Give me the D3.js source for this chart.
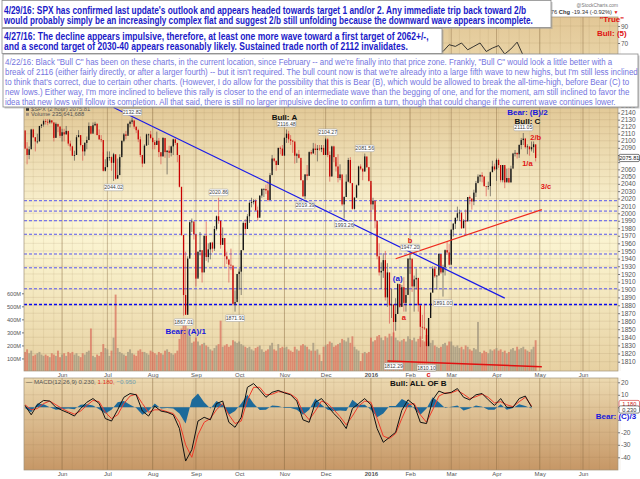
<!DOCTYPE html>
<html>
<head>
<meta charset="utf-8">
<script src="https://cdn.jsdelivr.net/npm/d3@7/dist/d3.min.js"></script>
<style>
  html, body { margin: 0; padding: 0; background: #fff; }
  svg { display: block; font-family: "Liberation Sans", Arial, sans-serif; }
</style>
</head>
<body>
<svg id="chart" width="640" height="479"></svg>
<script>
// ---- data ----------------------------------------------------------------
// SPX, one row per trading day: [close, high, low]
const firstDay = '2015-05-05';
const priorClose = 2114.5;
const holidays = ['2015-05-25', '2015-07-03', '2015-09-07', '2015-11-26', '2015-12-25',
    '2016-01-01', '2016-01-18', '2016-02-15', '2016-03-25', '2016-05-30'];

const may15 = [[2089,2115,2088],[2080,2098,2067],[2088,2092,2074],[2116,2117,2092],[2105,2117,2104],[2099,2105,2085],
    [2099,2110,2096],[2121,2121,2100],[2123,2124,2118],[2128,2130,2120],[2127,2131,2123],[2126,2131,2122],[2129,2131,2124],
    [2126,2129,2124],[2104,2126,2099],[2124,2126,2105],[2120,2123,2112],[2107,2121,2104]];
const jun15 = [[2112,2117,2099],[2109,2117,2099],[2114,2121,2109],[2096,2112,2093],[2092,2100,2086],[2079,2093,2079],
    [2080,2086,2072],[2105,2108,2081],[2108,2115,2106],[2094,2104,2092],[2085,2091,2072],[2097,2098,2079],[2101,2106,2088],
    [2121,2126,2101],[2110,2120,2109],[2122,2126,2113],[2124,2127,2121],[2108,2125,2108],[2102,2116,2101],[2101,2108,2098],
    [2058,2084,2057],[2063,2074,2057]];
const jul15 = [[2077,2085,2068],[2077,2085,2072],[2069,2078,2058],[2081,2083,2044],[2047,2074,2046],[2052,2075,2049],
    [2077,2081,2063],[2100,2100,2080],[2109,2111,2098],[2107,2114,2102],[2124,2125,2110],[2127,2129,2119],[2129,2133,2124],
    [2120,2128,2117],[2115,2120,2111],[2102,2117,2098],[2080,2106,2077],[2068,2078,2063],[2093,2095,2069],[2109,2110,2094],
    [2109,2110,2094],[2104,2114,2102]];
const aug15 = [[2098,2105,2088],[2094,2101,2088],[2100,2113,2095],[2084,2104,2077],[2078,2082,2067],[2104,2105,2078],
    [2084,2103,2076],[2086,2087,2053],[2083,2093,2076],[2092,2093,2078],[2102,2103,2080],[2097,2103,2094],[2080,2096,2070],
    [2036,2074,2035],[1971,2035,1970],[1893,1965,1867],[1868,1949,1870],[1940,1943,1872],[1988,1989,1943],[1989,1993,1975],
    [1972,1986,1965]];
const sep15 = [[1914,1948,1904],[1949,1949,1916],[1951,1975,1944],[1922,1947,1909],[1970,1970,1944],[1942,1989,1937],
    [1952,1960,1935],[1961,1961,1939],[1953,1962,1948],[1979,1983,1950],[1996,1997,1977],[1990,2021,1986],[1958,1989,1953],
    [1967,1981,1962],[1943,1952,1929],[1939,1949,1933],[1932,1938,1909],[1931,1953,1925],[1882,1927,1880],[1884,1899,1872],
    [1920,1920,1888]];
const oct15 = [[1923,1927,1900],[1951,1951,1893],[1987,1989,1951],[1979,1992,1972],[1996,1999,1982],[2014,2016,1987],
    [2015,2021,2008],[2017,2019,2012],[2004,2019,2003],[1994,2009,1990],[2024,2024,1996],[2033,2034,2021],[2033,2034,2022],
    [2031,2039,2026],[2018,2045,2016],[2052,2055,2018],[2075,2080,2058],[2072,2076,2070],[2066,2071,2058],[2090,2090,2067],
    [2089,2092,2081],[2079,2094,2079]];
const nov15 = [[2104,2105,2081],[2110,2116,2097],[2102,2114,2097],[2100,2108,2094],[2099,2101,2083],[2079,2095,2068],
    [2081,2083,2069],[2076,2087,2075],[2045,2072,2045],[2023,2044,2022],[2053,2053,2019],[2051,2066,2045],[2084,2085,2051],
    [2082,2087,2080],[2089,2097,2083],[2087,2096,2080],[2089,2094,2071],[2088,2094,2086],[2090,2094,2084],[2080,2094,2080]];
const dec15 = [[2102,2104,2086],[2080,2104,2077],[2050,2085,2043],[2092,2093,2051],[2077,2093,2070],[2064,2070,2057],
    [2048,2081,2042],[2053,2067,2045],[2012,2046,2010],[2022,2023,1993],[2043,2053,2025],[2073,2076,2042],[2041,2077,2041],
    [2006,2041,2005],[2021,2022,2005],[2038,2039,2022],[2064,2065,2038],[2061,2067,2059],[2057,2058,2045],[2078,2082,2057],
    [2063,2077,2062],[2044,2063,2043]];
const jan16 = [[2012,2038,1990],[2017,2021,2005],[1990,2011,1980],[1943,1985,1939],[1922,1960,1918],[1924,1935,1901],
    [1938,1947,1915],[1890,1950,1886],[1922,1934,1878],[1880,1900,1857],[1881,1901,1864],[1859,1876,1812],[1869,1889,1848],
    [1907,1908,1878],[1878,1906,1877],[1903,1906,1878],[1883,1916,1872],[1893,1902,1872],[1940,1940,1894]];
const feb16 = [[1940,1947,1920],[1904,1939,1897],[1913,1918,1872],[1915,1927,1900],[1880,1913,1872],[1853,1873,1828],
    [1852,1868,1838],[1851,1881,1849],[1829,1850,1810],[1864,1864,1834],[1896,1896,1872],[1927,1930,1903],[1917,1930,1915],
    [1918,1918,1900],[1946,1947,1925],[1922,1945,1920],[1929,1932,1891],[1951,1952,1918],[1948,1963,1945],[1932,1959,1931]];
const mar16 = [[1978,1979,1937],[1986,1987,1969],[1994,1994,1979],[2000,2009,1990],[2001,2005,1990],[1980,1995,1979],
    [1990,1992,1980],[1989,2005,1970],[2022,2022,1999],[2020,2024,2012],[2016,2017,2005],[2028,2032,2011],[2041,2044,2022],
    [2050,2053,2042],[2052,2053,2043],[2050,2056,2042],[2037,2051,2036],[2036,2036,2023],[2037,2043,2032],[2056,2057,2023],
    [2064,2072,2061],[2060,2068,2058]];
const apr16 = [[2073,2075,2044],[2066,2075,2062],[2045,2062,2042],[2066,2066,2042],[2042,2063,2034],[2048,2061,2044],
    [2042,2062,2041],[2061,2065,2042],[2082,2083,2066],[2083,2087,2078],[2081,2083,2075],[2094,2095,2076],[2101,2104,2088],
    [2103,2111,2094],[2091,2104,2089],[2092,2095,2081],[2088,2091,2079],[2091,2099,2085],[2095,2099,2083],[2075.81,2094,2071]];

// volume, millions, one value per trading day
const volMay15 = [150,170,140,160,120,130,140,150,130,120,130,120,110,140,130,120,160,110];
const volJun15 = [130,140,120,150,140,150,130,140,120,110,140,130,150,160,330,120,110,130,120,150,210,180];
const volJul15 = [170,120,160,260,590,180,150,140,130,120,150,170,140,130,120,160,170,150,150,140,130,160];
const volAug15 = [150,140,130,150,140,130,160,170,150,140,130,140,160,250,330,400,370,330,270,220,230];
const volSep15 = [260,230,200,210,220,200,190,170,160,180,200,210,390,190,200,210,190,200,240,230,220];
const volOct15 = [230,210,200,190,180,190,170,160,180,190,200,170,150,160,170,200,220,170,160,210,180,190];
const volNov15 = [180,190,170,160,150,190,170,160,200,210,200,190,170,160,220,160,170,130,80,190];
const volDec15 = [200,210,230,220,190,200,210,220,250,240,230,260,220,270,190,170,160,80,140,150,140,150];
const volJan16 = [260,230,240,270,280,260,240,270,260,290,270,300,260,240,230,240,250,230,270];
const volFeb16 = [250,240,260,230,250,270,240,230,280,230,220,240,200,190,180,190,210,220,200,230];
const volMar16 = [230,200,190,200,180,190,170,200,190,170,160,180,170,380,150,140,160,150,140,170,160,170];
const volApr16 = [180,160,170,150,160,140,150,170,180,160,190,170,180,190,170,160,150,170,190,240];

// MACD(12,26,9) and its signal, every 3rd trading day from firstDay
const macdStep = 3;
const macdLine = [1.5,-6,2,5.5,5,0,-2.4,-4.5,-7,-1, 4,7,3,-9,-11,-2,8,11,10,-3,
    -7,1,-3,-4,-6,-17,-43,-34,-11,-8, -10,3,5,-12,-16,-8,16,19,13.8,8,
    12,13.5,11.5,10,5,-10,-12,4,7,1, -5,-10,-17,-1,3,7,2,-17,-28,-24,
    -20,-2.4,6,2,-12,-13,6,13,11,12, 15,8,6,10,11,6,1.5,7,0,0, 7,9,0.23];
const signalLine = [2,-2,-1,3,5,2,-1,-3.5,-5.5,-3, 1.5,5.5,4.5,-4,-9,-6,3,9,10.5,3,
    -4,-2,-2,-3.5,-5,-12,-30,-40,-22,-12, -9,-2,3,-6,-13,-11,6,16,16,10,
    10.5,12.5,12,10.5,7,-4,-10,-3,5,3, -2,-7.5,-14,-7,1,5,4,-9,-23,-25,
    -21,-9,2,3,-6,-12,-2,9,11.5,11.5, 13.5,10.5,7,8.5,10.5,8,3.5,4.5,2,0.5, 4.5,8,1.18];

// RSI, the only part not hidden by the notes, every 3rd day
const rsiStart = '2016-02-19';
const rsiLine = [65,60,68,66,70,62,66,70,60,64,67,57,63,71,55,52,45];

// axis labels
const monthLabels = ['Jun','Jul','Aug','Sep','Oct','Nov','Dec','2016','Feb','Mar','Apr','May','Jun'];
const priceTicks = d3.range(1810, 2151, 10);
const volumeTicks = [100, 200, 300, 400, 500, 600];
const macdTicks = [-40, -30, -20, -10, 0, 10, 20];
const macdTickLabels = [-40, -30, -20, 10, 20];
const rsiTicks = [70, 90];

// annotations drawn on the chart
const pivotLabels = [['2015-07-07',2044.02,'low'],['2015-07-20',2132.82,'high'],['2015-08-24',1867.01,'low'],
    ['2015-09-17',2020.86,'high'],['2015-09-29',1871.91,'low'],['2015-11-03',2116.48,'high'],['2015-11-16',2019.39,'low'],
    ['2015-12-02',2104.27,'high'],['2015-12-14',1993.26,'low'],['2015-12-29',2081.56,'high'],['2016-01-20',1812.29,'low'],
    ['2016-02-01',1947.20,'high'],['2016-02-11',1810.10,'low'],['2016-02-24',1891.00,'low'],['2016-04-20',2111.05,'high']];
const levelLines = [2017, 2003, 1990, 1972, 1946, 1928, 1901];
const keyLevel = 1881;
const blueTrend = [['2015-07-07',2147.6],['2016-04-07',1889.1]];
const redTrend = [['2016-01-21',1939.8],['2016-05-03',2005]];
const redBase = [['2016-01-14',1811],['2016-05-03',1804]];
const waveLabels = [['Bull: A','2015-11-02',2130,'bull'],['Bear: (A)/1','2015-08-25',1844,'bear'],
    ['(a)','2016-01-22',1911,'bear'],['a','2016-01-27',1862,'wave'],['b','2016-02-01',1961,'wave'],
    ['c','2016-02-12',1791,'wave'],['Bear: (B)/2','2016-04-22',2136,'bear'],['Bull: C','2016-04-22',2124.5,'bull'],
    ['2/b','2016-04-28',2101,'wave'],['1/a','2016-04-22',2065,'wave'],['3/c','2016-05-05',2033,'wave']];
const macdLabels = [['Bull:  ALL OF B','2016-02-05',17.4,'bull'],['Bear: (C)/3','2016-06-23',-9,'bear']];
const rsiLabels = [['"True"','2016-06-21',94.6,'true'],['Bull: (5)','2016-06-21',78.6,'true']];

const note0429 = [
    "4/29/16:  SPX has confirmed last update's outlook and appears headed towards target 1 and/or 2.  Any immediate trip back toward 2/b",
    "would probably simply be an increasingly complex flat and suggest 2/b still unfolding because the downward wave appears incomplete."];
const note0427 = [
    "4/27/16:  The decline appears impulsive, therefore, at least one more wave toward a first target of 2062+/-,",
    "and a second target of 2030-40 appears reasonably likely.  Sustained trade north of 2112 invalidates."];
const note0422 = [
    "4/22/16:  Black \"Bull C\" has been on these charts, in the current location, since February -- and we're finally into that price zone.  Frankly, \"Bull C\" would look a little better with a",
    "break of 2116 (either fairly directly, or after a larger fourth) -- but it isn't required.  The bull count now is that we're already into a large fifth wave to new highs, but I'm still less inclined",
    "to think that's correct, due to certain other charts.  (However, I do allow for the possibility that this is Bear (B), which would be allowed to break the all-time-high, before Bear (C) to",
    "new lows.)  Either way, I'm more inclined to believe this rally is closer to the end of an intermediate wave than the begging of one, and for the moment, am still inclined to favor the",
    "idea that new lows will follow its completion.  All that said, there is still no larger impulsive decline to confirm a turn, though that could change if the current wave continues lower."];

// ---- layout ---------------------------------------------------------------
const plotLeft = 24, plotRight = 618;
const rsiTop = 17, rsiBottom = 96;
const priceTop = 98, priceBottom = 371;
const macdTop = 378, macdBottom = 470;
const blue = '#1818dc', red = '#e01414';
const labelColors = {bull: '#111', bear: blue, wave: red, true: red};

function tradingDays(start, count) {
    const out = [];
    const d = new Date(start + 'T12:00:00Z');
    while (out.length < count) {
        const key = d.toISOString().slice(0, 10);
        if (d.getUTCDay() !== 0 && d.getUTCDay() !== 6 && !holidays.includes(key)) {
            out.push(new Date(d));
        }
        d.setUTCDate(d.getUTCDate() + 1);
    }
    return out;
}

const days = tradingDays(firstDay, 290);
const dayKey = (d) => d.toISOString().slice(0, 10);
const idx = (s) => days.findIndex((d) => dayKey(d) === s);
const monthIdx = days.map((d, i) => i).filter((i) => i > 0 && days[i].getUTCMonth() !== days[i - 1].getUTCMonth());
const weekIdx = days.map((d, i) => i).filter((i) => i > 0 && days[i].getUTCDay() < days[i - 1].getUTCDay());

const rows = [].concat(may15, jun15, jul15, aug15, sep15, oct15, nov15, dec15, jan16, feb16, mar16, apr16);
const volumes = [].concat(volMay15, volJun15, volJul15, volAug15, volSep15, volOct15, volNov15, volDec15,
    volJan16, volFeb16, volMar16, volApr16);
const bars = rows.map((r, i) => ({
    i, close: r[0], high: r[1], low: r[2], open: i ? rows[i - 1][0] : priorClose, volume: volumes[i]
}));
const lastBar = bars[bars.length - 1];
const macdData = macdLine.map((m, k) => ({i: k * macdStep, m, s: signalLine[k], h: m - signalLine[k]}));
const lastMacd = macdData[macdData.length - 1];
const rsiData = rsiLine.map((v, k) => ({i: idx(rsiStart) + k * 3, v}));

const x = d3.scaleLinear().domain([-0.5, 288]).range([plotLeft, plotRight]);
const yPrice = d3.scaleLog().domain([1810, 2140]).range([361.7, 112.7]);
const yVol = d3.scaleLinear().domain([0, 600]).range([371.5, 293.3]);
const yMacd = d3.scaleLinear().domain([-40, 20]).range([457.3, 382.3]);
const yRsi = d3.scaleLinear().domain([70, 90]).range([43, 26]);

const svg = d3.select('#chart');
const defs = svg.append('defs');

function addGradient(id, stops) {
    const g = defs.append('linearGradient').attr('id', id)
        .attr('x1', 0).attr('y1', 0).attr('x2', 0).attr('y2', 1);
    stops.forEach((s) => g.append('stop').attr('offset', s[0]).attr('stop-color', s[1]));
}

function addClip(id, top, bottom) {
    defs.append('clipPath').attr('id', id).append('rect')
        .attr('x', plotLeft).attr('y', top).attr('width', plotRight - plotLeft).attr('height', bottom - top);
}

addGradient('gPrice', [[0, '#e0c592'], [0.45, '#fcf6d6'], [0.62, '#f8efc9'], [1, '#e7d1a2']]);
addGradient('gRsi', [[0, '#e2c796'], [1, '#efdfb6']]);
addGradient('gMacd', [[0, '#ecd9b0'], [1, '#c69766']]);
addClip('cRsi', rsiTop, rsiBottom);
addClip('cPrice', priceTop, priceBottom);
addClip('cMacd', macdTop, macdBottom);

function appendPanel(top, bottom, fill, yScale, yTicks) {
    svg.append('rect').attr('x', plotLeft).attr('y', top)
        .attr('width', plotRight - plotLeft).attr('height', bottom - top).attr('fill', fill);
    const grid = svg.append('g').attr('stroke-width', 0.6);
    grid.selectAll('line.h').data(yTicks).join('line').attr('class', 'h')
        .attr('x1', plotLeft).attr('x2', plotRight)
        .attr('y1', (d) => yScale(d)).attr('y2', (d) => yScale(d))
        .attr('stroke', 'rgba(140,110,70,0.22)');
    grid.selectAll('line.w').data(weekIdx).join('line').attr('class', 'w')
        .attr('x1', (d) => x(d)).attr('x2', (d) => x(d)).attr('y1', top).attr('y2', bottom)
        .attr('stroke', 'rgba(140,110,70,0.18)');
    grid.selectAll('line.m').data(monthIdx).join('line').attr('class', 'm')
        .attr('x1', (d) => x(d)).attr('x2', (d) => x(d)).attr('y1', top).attr('y2', bottom)
        .attr('stroke', 'rgba(130,100,60,0.45)').attr('stroke-width', 0.9);
}

function appendBorder(top, bottom) {
    svg.append('rect').attr('x', plotLeft).attr('y', top)
        .attr('width', plotRight - plotLeft).attr('height', bottom - top)
        .attr('fill', 'none').attr('stroke', '#a0927a').attr('stroke-width', 0.7);
}

function styleAxis(g, size) {
    g.select('.domain').remove();
    g.selectAll('line').attr('stroke', '#777');
    g.selectAll('text').attr('fill', '#555').style('font-size', size + 'px');
}

function appendMonthAxis(y) {
    const axis = d3.axisBottom(x).tickValues(monthIdx).tickSize(0).tickPadding(1.8)
        .tickFormat((d, k) => monthLabels[k]);
    const g = svg.append('g').attr('transform', `translate(0 ${y})`).call(axis);
    styleAxis(g, 6);
    g.selectAll('text').style('font-weight', (d, k) => monthLabels[k] === '2016' ? 'bold' : 'normal');
}

function appendTextAt(g, data, yScale, size) {
    g.selectAll('text').data(data).join('text')
        .attr('x', (d) => x(idx(d[1]))).attr('y', (d) => yScale(d[2]))
        .attr('text-anchor', 'middle').attr('fill', (d) => labelColors[d[3]])
        .style('font-size', size + 'px').style('font-weight', 'bold')
        .text((d) => d[0]);
}

function appendValueBox(g, cx, cy, label, color) {
    g.append('rect').attr('x', cx - 10).attr('y', cy - 3.6).attr('width', 20.5).attr('height', 7.2)
        .attr('rx', 1.5).attr('fill', '#fff').attr('stroke', color).attr('stroke-width', 0.6);
    g.append('text').attr('x', cx + 0.3).attr('y', cy + 2).attr('text-anchor', 'middle')
        .attr('fill', color).style('font-size', '5.6px').text(label);
}

// each note line is squeezed sideways to the width it has in the picture
function appendNote(lines, box, widths, baselines, style) {
    const g = svg.append('g');
    g.append('rect').attr('x', box[0] + 1.5).attr('y', box[1] + 1.5).attr('width', box[2]).attr('height', box[3])
        .attr('fill', '#9a9a9a').attr('opacity', 0.55);
    g.append('rect').attr('x', box[0]).attr('y', box[1]).attr('width', box[2]).attr('height', box[3])
        .attr('fill', '#fff').attr('stroke', '#8a8a8a').attr('stroke-width', 0.8);
    g.selectAll('text').data(lines).join('text')
        .attr('fill', style.color)
        .style('font-size', style.size + 'px').style('font-weight', style.weight)
        .text((d) => d)
        .each(function (d, k) {
            const sx = widths[k] / this.getComputedTextLength();
            d3.select(this).attr('transform', `translate(${box[0] + 2} ${baselines[k]}) scale(${sx} 1)`);
        });
}

// ---- RSI panel (mostly under the notes) -----------------------------------
appendPanel(rsiTop, rsiBottom, 'url(#gRsi)', yRsi, [10, 30, 50, 70, 90]);
svg.append('g').attr('clip-path', 'url(#cRsi)').append('path')
    .attr('d', d3.line().x((d) => x(d.i)).y((d) => yRsi(d.v))(rsiData))
    .attr('fill', 'none').attr('stroke', '#222').attr('stroke-width', 0.9);
appendBorder(rsiTop, rsiBottom);
styleAxis(svg.append('g').attr('transform', `translate(${plotRight} 0)`)
    .call(d3.axisRight(yRsi).tickValues(rsiTicks).tickSize(2).tickPadding(1)), 6.5);

// ---- price panel -----------------------------------------------------------
appendPanel(priceTop, priceBottom, 'url(#gPrice)', yPrice, priceTicks);
const pricePlot = svg.append('g').attr('clip-path', 'url(#cPrice)');

pricePlot.append('g').selectAll('rect').data(bars).join('rect')
    .attr('x', (d) => x(d.i) - 0.95).attr('width', 1.9)
    .attr('y', (d) => yVol(d.volume)).attr('height', (d) => yVol(0) - yVol(d.volume))
    .attr('fill', (d) => d.close >= d.open ? '#9c927c' : '#d86e5c').attr('opacity', 0.72);

pricePlot.append('g').selectAll('line').data(levelLines).join('line')
    .attr('x1', plotLeft).attr('x2', plotRight)
    .attr('y1', (d) => yPrice(d)).attr('y2', (d) => yPrice(d))
    .attr('stroke', '#5656ee').attr('stroke-width', 1).attr('stroke-dasharray', '3,2');
pricePlot.append('line').attr('x1', plotLeft).attr('x2', plotRight)
    .attr('y1', yPrice(keyLevel)).attr('y2', yPrice(keyLevel))
    .attr('stroke', '#0808f0').attr('stroke-width', 1.3).attr('stroke-dasharray', '3,2');

const candles = pricePlot.append('g');
candles.selectAll('line').data(bars).join('line')
    .attr('x1', (d) => x(d.i)).attr('x2', (d) => x(d.i))
    .attr('y1', (d) => yPrice(d.high)).attr('y2', (d) => yPrice(d.low))
    .attr('stroke', (d) => d.close >= d.open ? '#3a3a3a' : '#d84040').attr('stroke-width', 0.6);
candles.selectAll('rect').data(bars).join('rect')
    .attr('x', (d) => x(d.i) - 0.65).attr('width', 1.3)
    .attr('y', (d) => yPrice(Math.max(d.open, d.close)))
    .attr('height', (d) => Math.max(0.8, Math.abs(yPrice(d.open) - yPrice(d.close))))
    .attr('fill', (d) => d.close >= d.open ? '#111' : '#c80000');

const trend = d3.line().x((d) => x(idx(d[0]))).y((d) => yPrice(d[1]));
pricePlot.append('path').attr('d', trend(blueTrend)).attr('stroke', '#1a1ae8').attr('stroke-width', 1.2).attr('fill', 'none');
pricePlot.append('path').attr('d', trend(redTrend)).attr('stroke', '#ee2a1e').attr('stroke-width', 1.2).attr('fill', 'none');
svg.append('path').attr('d', trend(redBase)).attr('stroke', '#e01010').attr('stroke-width', 1.5).attr('fill', 'none');

const pivots = svg.append('g');
pivotLabels.forEach((p) => {
    const cx = x(idx(p[0]));
    const cy = yPrice(p[1]) + (p[2] === 'high' ? -5.5 : 6.5);
    pivots.append('rect').attr('x', cx - 9.5).attr('y', cy - 3.3).attr('width', 19).attr('height', 6.6)
        .attr('rx', 1.2).attr('fill', '#fff').attr('stroke', '#9a9a9a').attr('stroke-width', 0.5);
    pivots.append('text').attr('x', cx).attr('y', cy + 1.9).attr('text-anchor', 'middle')
        .attr('fill', '#444').style('font-size', '5.2px').text(p[1].toFixed(2));
});

appendTextAt(svg.append('g'), waveLabels.filter((d) => d[3] !== 'wave'), yPrice, 8);
appendTextAt(svg.append('g'), waveLabels.filter((d) => d[3] === 'wave'), yPrice, 7.5);
appendBorder(priceTop, priceBottom);

// price labels next to the last-value box are hidden behind it
const lastY = yPrice(lastBar.close);
const priceTickLabels = priceTicks.filter((t) => Math.abs(yPrice(t) - lastY) > 6);
const priceAxis = svg.append('g').attr('transform', `translate(${plotRight} 0)`)
    .call(d3.axisRight(yPrice).tickValues(priceTicks).tickSize(2).tickPadding(1)
        .tickFormat((d) => priceTickLabels.includes(d) ? d3.format('d')(d) : ''));
styleAxis(priceAxis, 6.6);
styleAxis(svg.append('g').attr('transform', `translate(${plotLeft} 0)`)
    .call(d3.axisLeft(yVol).tickValues(volumeTicks).tickSize(2).tickPadding(1).tickFormat((d) => d + 'M')), 5.6);
appendValueBox(svg.append('g'), 629, lastY, d3.format('.2f')(lastBar.close), '#222');

const legend = svg.append('g').style('font-size', '5.8px').attr('fill', '#555');
legend.append('rect').attr('x', 26).attr('y', 107.8).attr('width', 3).attr('height', 3).attr('fill', '#333');
legend.append('text').attr('x', 31).attr('y', 111).text('$SPX (2 hour) ' + d3.format('.2f')(lastBar.close));
legend.append('rect').attr('x', 26).attr('y', 112.8).attr('width', 3).attr('height', 3).attr('fill', '#a09080');
legend.append('text').attr('x', 31).attr('y', 116).text('Volume 235,641,688');

appendMonthAxis(priceBottom);

// ---- MACD panel ------------------------------------------------------------
appendPanel(macdTop, macdBottom, 'url(#gMacd)', yMacd, macdTicks);
const macdPlot = svg.append('g').attr('clip-path', 'url(#cMacd)');
macdPlot.append('path')
    .attr('d', d3.area().x((d) => x(d.i)).y0(yMacd(0)).y1((d) => yMacd(d.h))(macdData))
    .attr('fill', '#1d6a9a');
macdPlot.append('path')
    .attr('d', d3.line().x((d) => x(d.i)).y((d) => yMacd(d.s))(macdData))
    .attr('fill', 'none').attr('stroke', '#f03a2a').attr('stroke-width', 1);
macdPlot.append('path')
    .attr('d', d3.line().x((d) => x(d.i)).y((d) => yMacd(d.m))(macdData))
    .attr('fill', 'none').attr('stroke', '#111').attr('stroke-width', 1);
appendBorder(macdTop, macdBottom);

styleAxis(svg.append('g').attr('transform', `translate(${plotRight} 0)`)
    .call(d3.axisRight(yMacd).tickValues(macdTicks).tickSize(2).tickPadding(1)
        .tickFormat((d) => macdTickLabels.includes(d) ? d : '')), 6.6);
appendValueBox(svg.append('g'), 629, 404, d3.format('.3f')(lastMacd.s), '#d02020');
appendValueBox(svg.append('g'), 629, 409.5, d3.format('.3f')(lastMacd.m), '#333');

const macdLegend = svg.append('text').attr('x', 26).attr('y', 384).style('font-size', '6.2px');
macdLegend.append('tspan').attr('fill', '#333').text('\u2014 ');
macdLegend.append('tspan').attr('fill', '#555').text('MACD(12,26,9) ' + d3.format('.3f')(lastMacd.m) + ', ');
macdLegend.append('tspan').attr('fill', '#e03020').text(d3.format('.3f')(lastMacd.s) + ', ');
macdLegend.append('tspan').attr('fill', '#6f9fb0').text(d3.format('.3f')(lastMacd.h));

appendTextAt(svg.append('g'), macdLabels, yMacd, 8);
appendMonthAxis(macdBottom);

// ---- header and notes --------------------------------------------------------
svg.append('text').attr('x', plotRight).attr('y', 6.5).attr('text-anchor', 'end')
    .attr('fill', '#777').style('font-size', '4.8px').text('@StockCharts.com');
const chg = svg.append('text').attr('x', 612).attr('y', 13.5).attr('text-anchor', 'end')
    .attr('fill', '#333').style('font-size', '5.8px');
chg.append('tspan').text('76 ');
chg.append('tspan').style('font-weight', 'bold').text('Chg');
chg.append('tspan').text(' -19.34 (-0.92%)');
svg.append('text').attr('x', 616).attr('y', 13.5).attr('text-anchor', 'middle')
    .attr('fill', red).style('font-size', '5px').text('\u25BC');

appendTextAt(svg.append('g'), rsiLabels, yRsi, 8);

appendNote(note0429, [2, 0.5, 549, 27], [523, 530], [13.6, 24.3], {color: '#1a1ac8', size: 10, weight: 'bold'});
appendNote(note0427, [2, 28.5, 440, 25], [425, 404], [39.6, 50.3], {color: '#1a1ac8', size: 10, weight: 'bold'});
appendNote(note0422, [3, 54, 635, 53], [608, 633, 625, 625, 611], [65.2, 75.2, 85.2, 95.2, 104.7],
    {color: '#7474de', size: 9.2, weight: 'normal'});
</script>
</body>
</html>
